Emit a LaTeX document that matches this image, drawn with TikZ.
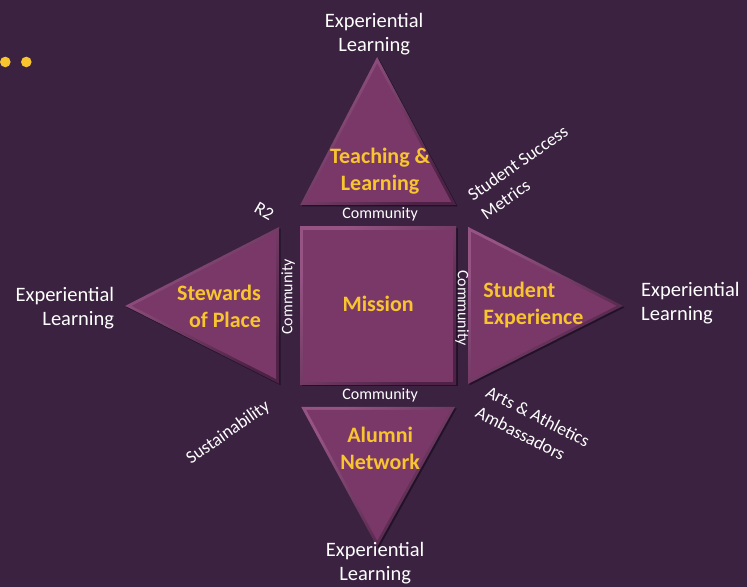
\documentclass[tikz,border=0pt]{standalone}
\usepackage{fontspec}
\setmainfont{Carlito}
\definecolor{plum}{RGB}{58,34,64}
\definecolor{facecol}{RGB}{122,56,104}
\definecolor{rimlight}{RGB}{150,84,132}
\definecolor{rimdark}{RGB}{78,34,70}
\definecolor{shadowcol}{RGB}{34,18,40}
\definecolor{gold}{RGB}{248,196,48}

% #1 = corner points of the piece, #2 = factor:centre for the inset face
\newcommand{\bevelpiece}[2]{%
    \begin{scope}[shift={(1.5,1.5)}]
        \fill[shadowcol] #1 -- cycle;
    \end{scope}
    \shade[top color=rimlight, bottom color=rimdark, shading angle=45] #1 -- cycle;
    \fill[facecol, scale around={#2}] #1 -- cycle;
}

\begin{document}
\begin{tikzpicture}[x=1pt, y=-1pt,
    lbl/.style={text=white, font=\fontsize{20.5}{24}\selectfont, inner sep=0pt},
    side/.style={text=white, font=\fontsize{18}{23}\selectfont, inner sep=0pt, align=left},
    comm/.style={text=white, font=\fontsize{16}{18}\selectfont, inner sep=0pt},
    pillar/.style={text=gold, font=\bfseries\fontsize{22}{27}\selectfont, inner sep=0pt}]
    \fill[plum] (0,0) rectangle (747,587);
    \fill[gold] (5,62) circle (5.3) (26,62) circle (5.3);
    % the mission square and its four triangles
    \bevelpiece{(300,227) -- (456,227) -- (456,385) -- (300,385)}{0.962:(378,306)}
    \bevelpiece{(377,57) -- (456,205) -- (300,205)}{0.936:(378,157.9)}
    \bevelpiece{(125,306) -- (279,227) -- (279,384)}{0.938:(230.9,306)}
    \bevelpiece{(623,306) -- (468,384) -- (468,227)}{0.938:(516.2,306)}
    \bevelpiece{(377,547) -- (301,407) -- (455,407)}{0.934:(378,452.5)}
    \node[pillar] (mission) at (378,304) {Mission};
    \node[pillar, align=center] (teach) at (380,171) {Teaching \&\\Learning};
    \node[pillar, align=right, anchor=east] (stewards) at (261,306) {Stewards\\of Place};
    \node[pillar, align=left, anchor=west] (student) at (483,305) {Student\\Experience};
    \node[pillar, align=center] (alumni) at (380,449) {Alumni\\Network};
    \node[comm] (comm-top) at (380,214) {Community};
    \node[comm] (comm-bot) at (380,395) {Community};
    \node[comm, rotate=90] (comm-left) at (288,297) {Community};
    \node[comm, rotate=-90] (comm-right) at (462,308) {Community};
    \node[lbl, align=center] (el-top) at (374,34) {Experiential\\Learning};
    \node[lbl, align=right, anchor=east] (el-left) at (114,308) {Experiential\\Learning};
    \node[lbl, align=left, anchor=west] (el-right) at (641,303) {Experiential\\Learning};
    \node[lbl, align=center] (el-bot) at (375,563) {Experiential\\Learning};
    \node[side, rotate=-30] (r2) at (264,211) {R2};
    \node[side, rotate=35, anchor=west] (metrics) at (476,206) {Student Success\\Metrics};
    \node[side, rotate=-27, anchor=west] (arts) at (482,401) {Arts \& Athletics\\Ambassadors};
    \node[side, rotate=35] (sustain) at (228,433) {Sustainability};
\end{tikzpicture}
\end{document}
